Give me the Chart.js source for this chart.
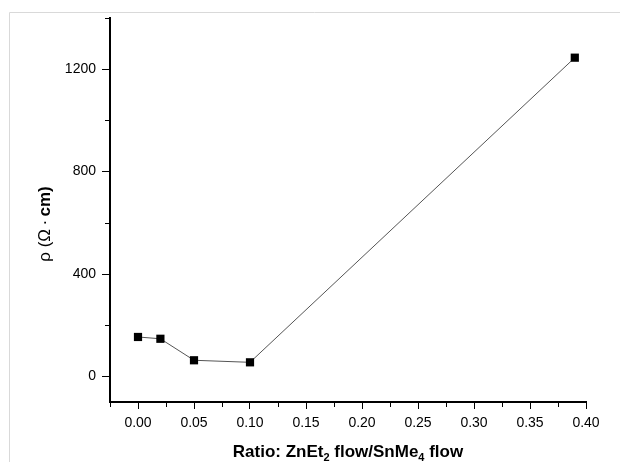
<!DOCTYPE html>
<html>
<head>
<meta charset="utf-8">
<script src="https://cdn.jsdelivr.net/npm/chart.js@4/dist/chart.umd.min.js"></script>
<style>
  body { margin: 0; background: #fff; }
  #wrap { width: 620px; height: 462px; }
</style>
</head>
<body>
<div id="wrap"><canvas id="rhoChart" width="620" height="462"></canvas></div>
<script>
// ZnEt2 / SnMe4 flow ratio vs resistivity
const ratio = [0.00, 0.02, 0.05, 0.10, 0.39];
const rho = [154, 147, 63, 55, 1245];
const xTicks = [0.00, 0.05, 0.10, 0.15, 0.20, 0.25, 0.30, 0.35, 0.40];
const yTicks = [0, 400, 800, 1200];

const FONT = '"Liberation Sans", Arial, sans-serif';

// minor ticks halfway between the major ones, plus frame and axis titles
const decorations = {
  id: 'decorations',
  beforeDraw(chart) {
    const c = chart.ctx;
    c.save();
    c.strokeStyle = '#d9d9d9';
    c.lineWidth = 1;
    c.beginPath();
    c.moveTo(9.5, 462);
    c.lineTo(9.5, 12.5);
    c.lineTo(620, 12.5);
    c.stroke();
    c.restore();
  },
  afterDraw(chart) {
    const c = chart.ctx;
    const xs = chart.scales.x, ys = chart.scales.y;
    const area = chart.chartArea;
    c.save();
    c.strokeStyle = '#000';
    c.lineWidth = 1;
    c.beginPath();
    xTicks.forEach(t => {
      const v = t - 0.025;
      if (v < xs.min - 1e-9) return;
      const px = Math.round(xs.getPixelForValue(v)) + 0.5;
      c.moveTo(px, area.bottom);
      c.lineTo(px, area.bottom + 5);
    });
    yTicks.forEach(t => {
      const v = t + 200;
      if (v > ys.max + 1e-9) return;
      const py = Math.round(ys.getPixelForValue(v)) + 0.5;
      c.moveTo(area.left, py);
      c.lineTo(area.left - 5, py);
    });
    c.stroke();

    // x title with subscripts
    c.fillStyle = '#000';
    c.textBaseline = 'alphabetic';
    const parts = [
      ['Ratio: ZnEt', 0], ['2', 1], [' flow/SnMe', 0], ['4', 1], [' flow', 0]
    ];
    const big = 'bold 17px ' + FONT, small = 'bold 11px ' + FONT;
    let w = 0;
    parts.forEach(p => { c.font = p[1] ? small : big; w += c.measureText(p[0]).width; });
    let x = 348 - w / 2;
    parts.forEach(p => {
      c.font = p[1] ? small : big;
      c.fillText(p[0], x, p[1] ? 461 : 456.5);
      x += c.measureText(p[0]).width;
    });

    // y title, rotated
    c.translate(50, 224);
    c.rotate(-Math.PI / 2);
    const yParts = [['\u03C1 (\u03A9\u2009\u00B7\u2009', '17px '], ['cm)', 'bold 17px ']];
    w = 0;
    yParts.forEach(p => { c.font = p[1] + FONT; w += c.measureText(p[0]).width; });
    x = -w / 2;
    yParts.forEach(p => {
      c.font = p[1] + FONT;
      c.fillText(p[0], x, 0);
      x += c.measureText(p[0]).width;
    });
    c.restore();
  }
};

const ctx = document.getElementById('rhoChart').getContext('2d');
const rhoChart = new Chart(ctx, {
  type: 'line',
  data: {
    datasets: [{
      data: ratio.map((r, i) => ({ x: r, y: rho[i] })),
      borderColor: '#555',
      borderWidth: 1,
      pointStyle: 'rect',
      pointRadius: 5.8,
      pointBorderWidth: 0,
      pointBackgroundColor: '#000',
      tension: 0
    }]
  },
  options: {
    responsive: false,
    animation: false,
    layout: { padding: { top: 18, right: 34, left: 0, bottom: 0 } },
    plugins: { legend: { display: false }, tooltip: { enabled: false } },
    scales: {
      x: {
        type: 'linear',
        min: -0.025,
        max: 0.40,
        afterBuildTicks: s => { s.ticks = xTicks.map(v => ({ value: v })); },
        afterFit: s => { s.height = 60; },
        grid: { drawOnChartArea: false, tickLength: 7, color: '#000', lineWidth: 1 },
        border: { display: true, color: '#000', width: 2 },
        ticks: {
          padding: 6,
          color: '#000',
          font: { family: FONT, size: 14 },
          maxRotation: 0,
          callback: v => v.toFixed(2)
        }
      },
      y: {
        min: -100,
        max: 1400,
        afterBuildTicks: s => { s.ticks = yTicks.map(v => ({ value: v })); },
        afterFit: s => { s.width = 110; },
        grid: { drawOnChartArea: false, tickLength: 8, color: '#000', lineWidth: 1 },
        border: { display: true, color: '#000', width: 2 },
        ticks: {
          padding: 6,
          color: '#000',
          font: { family: FONT, size: 14 },
          callback: v => String(v)
        }
      }
    }
  },
  plugins: [decorations]
});
</script>
</body>
</html>
